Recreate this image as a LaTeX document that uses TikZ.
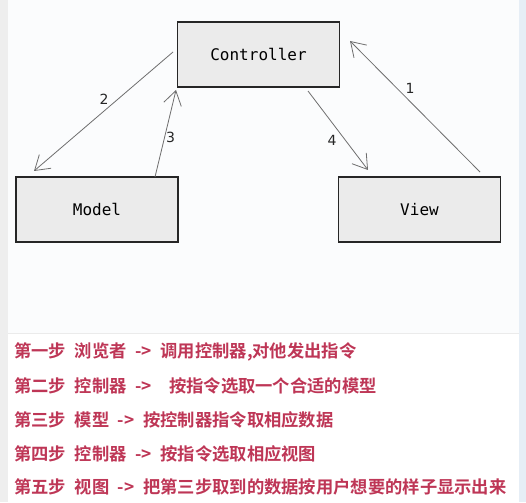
\documentclass[tikz,border=0pt]{standalone}
\usepackage{fontspec}
\setmainfont{DejaVu Sans}
\newfontfamily\boxfont{DejaVu Sans Mono}
\newfontfamily\cjkfont[WordSpace=2.2]{Noto Sans CJK SC Bold}
\usetikzlibrary{arrows.meta}
\definecolor{stepred}{HTML}{BE3656}
\definecolor{boxfill}{HTML}{EBEBEB}
\definecolor{linegray}{HTML}{6E6E6E}
\definecolor{panelbg}{HTML}{FBFCFD}
\definecolor{leftstrip}{HTML}{EEEEEE}
\definecolor{rightstrip}{HTML}{E6EEF6}
\tikzset{
  mvcbox/.style={draw=black!85, line width=1.3pt, fill=boxfill, minimum width=162pt, minimum height=65pt, inner sep=0pt, font=\boxfont\fontsize{16}{18}\selectfont},
  flow/.style={draw=linegray, line width=0.8pt, -{Straight Barb[length=14pt,width=18pt,line width=0.8pt]}},
  numlbl/.style={font=\fontsize{14}{16}\selectfont, text=black!85, inner sep=1pt},
  steptext/.style={anchor=west, text=stepred, inner sep=0pt, font=\cjkfont\fontsize{17.3}{20}\selectfont}
}
\begin{document}
\begin{tikzpicture}[x=1pt,y=-1pt]
\useasboundingbox (0,0) rectangle (526,502);
\fill[white] (0,0) rectangle (526,502);
\fill[leftstrip] (0,0) rectangle (8,502);
\fill[panelbg] (8,0) rectangle (519,333);
\fill[rightstrip] (519,0) rectangle (526,502);
\draw[black!8, line width=0.6pt] (8,333) -- (519,333);

\node[mvcbox] (ctrl) at (258.5,54.5) {Controller};
\node[mvcbox] (model) at (97,209.5) {Model};
\node[mvcbox] (view) at (419.5,209.5) {View};

\coordinate (c2s) at (173,52);
\coordinate (m2e) at (34,171);
\coordinate (m3s) at (155,177);
\coordinate (c3e) at (176,90);
\coordinate (c4s) at (308,91);
\coordinate (v4e) at (368,170);
\coordinate (v1s) at (480,172);
\coordinate (c1e) at (350,41);

\draw[flow] (c2s) -- (m2e);
\draw[flow] (m3s) -- (c3e);
\draw[flow] (c4s) -- (v4e);
\draw[flow] (v1s) -- (c1e);

\node[numlbl] (n2) at (104,99) {2};
\node[numlbl] (n3) at (170.5,137) {3};
\node[numlbl] (n4) at (332,140) {4};
\node[numlbl] (n1) at (410,88) {1};

\node[steptext] (s1) at (14,352) {第一步 浏览者 -> 调用控制器,对他发出指令};
\node[steptext] (s2) at (14,386) {第二步 控制器 -> ~按指令选取一个合适的模型};
\node[steptext] (s3) at (14,419.5) {第三步 模型 -> 按控制器指令取相应数据};
\node[steptext] (s4) at (14,453.5) {第四步 控制器 -> 按指令选取相应视图};
\node[steptext] (s5) at (14,487) {第五步 视图 -> 把第三步取到的数据按用户想要的样子显示出来};
\end{tikzpicture}
\end{document}
